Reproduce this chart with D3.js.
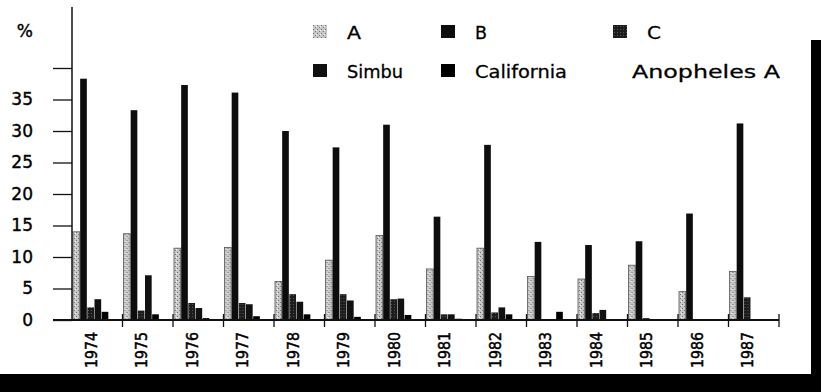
<!DOCTYPE html>
<html>
<head>
<meta charset="utf-8">
<script src="https://cdn.jsdelivr.net/npm/d3@7"></script>
<style>
  body { margin: 0; background: #fff; }
  svg { display: block; font-family: "DejaVu Sans", sans-serif; }
</style>
</head>
<body>
<script>
// values (%)
const years = ['1974', '1975', '1976', '1977', '1978', '1979', '1980',
  '1981', '1982', '1983', '1984', '1985', '1986', '1987'];
const seriesNames = ['A', 'B', 'C', 'Simbu', 'California', 'Anopheles A'];
const valsA = [14.0, 13.7, 11.4, 11.5, 6.1, 9.5, 13.4, 8.1, 11.4, 6.9, 6.5, 8.7, 4.5, 7.7];
const valsB = [38.3, 33.3, 37.3, 36.1, 30.0, 27.4, 31.0, 16.4, 27.8, 12.4, 11.9, 12.5, 16.9, 31.2];
const valsC = [2.0, 1.5, 2.7, 2.7, 4.1, 4.1, 3.3, 0.9, 1.2, 0, 1.1, 0.3, 0, 3.6];
const valsSimbu = [3.3, 7.1, 1.9, 2.5, 2.9, 3.1, 3.4, 0.9, 2.0, 0, 1.6, 0, 0, 0];
const valsCal = [1.3, 0.9, 0.3, 0.6, 0.9, 0.5, 0.8, 0.2, 0.9, 1.3, 0, 0, 0, 0];
const yTicks = [0, 5, 10, 15, 20, 25, 30, 35, 40];

const w = 829, h = 392;
const svg = d3.select(document.body).append('svg')
  .attr('width', w).attr('height', h);

svg.append('rect').attr('width', w).attr('height', h).attr('fill', '#fff');

// stippled grey for series A
let defs = svg.append('defs');
let pat = defs.append('pattern').attr('id', 'stip')
  .attr('width', 4).attr('height', 4).attr('patternUnits', 'userSpaceOnUse');
pat.append('rect').attr('width', 4).attr('height', 4).attr('fill', '#c8c8c8');
pat.append('rect').attr('x', 0).attr('y', 0).attr('width', 1).attr('height', 1).attr('fill', '#6a6a6a');
pat.append('rect').attr('x', 2).attr('y', 2).attr('width', 1).attr('height', 1).attr('fill', '#7a7a7a');
pat.append('rect').attr('x', 3).attr('y', 1).attr('width', 1).attr('height', 1).attr('fill', '#fff');

let pat2 = defs.append('pattern').attr('id', 'dark')
  .attr('width', 3).attr('height', 3).attr('patternUnits', 'userSpaceOnUse');
pat2.append('rect').attr('width', 3).attr('height', 3).attr('fill', '#1c1c1c');
pat2.append('rect').attr('x', 1).attr('y', 1).attr('width', 1).attr('height', 1).attr('fill', '#555');

const series = [
  { name: 'A', values: valsA, fill: 'url(#stip)', stroke: '#555' },
  { name: 'B', values: valsB, fill: '#0d0d0d', stroke: 'none' },
  { name: 'C', values: valsC, fill: 'url(#dark)', stroke: 'none' },
  { name: 'Simbu', values: valsSimbu, fill: '#111', stroke: 'none' },
  { name: 'California', values: valsCal, fill: '#000', stroke: 'none' }
];

let x0 = d3.scaleBand().domain(years).range([72, 779]).padding(0);
let x1 = d3.scaleBand().domain(seriesNames).range([1, 44]);
let y = d3.scaleLinear().domain([0, 40]).range([320, 68]);

// bars
let groups = svg.selectAll('.grp')
  .data(years)
  .enter().append('g')
  .attr('class', 'grp')
  .attr('transform', d => `translate(${x0(d)},0)`);

groups.selectAll('rect')
  .data((d, i) => series.map(s => ({ s: s, v: s.values[i] })))
  .enter().append('rect')
  .attr('x', d => x1(d.s.name))
  .attr('y', d => y(d.v))
  .attr('width', x1.bandwidth() - 0.5)
  .attr('height', d => y(0) - y(d.v))
  .attr('fill', d => d.s.fill)
  .attr('stroke', d => d.s.stroke)
  .attr('stroke-width', 0.8);

// y axis
let yAxis = svg.append('g')
  .attr('transform', 'translate(72,0)')
  .call(d3.axisLeft(y).tickValues(yTicks).tickSize(19).tickPadding(20)
    .tickFormat(d => d === 40 ? '' : d));
yAxis.select('.domain').remove();
yAxis.selectAll('line').attr('stroke', '#111').attr('stroke-width', 1.3);
yAxis.selectAll('text').attr('font-size', 17).attr('fill', '#000')
  .attr('stroke', '#000').attr('stroke-width', 0.4)
  .attr('font-family', '"DejaVu Sans", sans-serif');

svg.append('line').attr('x1', 72).attr('x2', 72).attr('y1', 7).attr('y2', y(0))
  .attr('stroke', '#111').attr('stroke-width', 1.5);
svg.append('line').attr('x1', 53).attr('x2', 779).attr('y1', y(0)).attr('y2', y(0))
  .attr('stroke', '#111').attr('stroke-width', 2);

svg.append('text').attr('x', 33).attr('y', 37).attr('text-anchor', 'end')
  .attr('font-size', 17).attr('stroke', '#000').attr('stroke-width', 0.4).text('%');

// group separators
svg.selectAll('.sep')
  .data(years)
  .enter().append('line')
  .attr('class', 'sep')
  .attr('x1', d => x0(d) + x0.bandwidth())
  .attr('x2', d => x0(d) + x0.bandwidth())
  .attr('y1', y(0) - 6).attr('y2', y(0) + 7)
  .attr('stroke', '#111').attr('stroke-width', 1.3);

// year labels
svg.selectAll('.yr')
  .data(years)
  .enter().append('text')
  .attr('class', 'yr')
  .attr('transform', d => `translate(${x0(d) + x0.bandwidth() / 2 - 0.5},332) rotate(-90)`)
  .attr('text-anchor', 'end')
  .attr('font-size', 15)
  .attr('stroke', '#000').attr('stroke-width', 0.5)
  .attr('textLength', 36)
  .attr('lengthAdjust', 'spacingAndGlyphs')
  .text(d => d);

// legend
const legend = [
  { name: 'A', fill: 'url(#stip)', x: 313, y: 25, len: 14 },
  { name: 'B', fill: '#0d0d0d', x: 441, y: 25, len: 12 },
  { name: 'C', fill: 'url(#dark)', x: 613, y: 25, len: 14 },
  { name: 'Simbu', fill: '#111', x: 313, y: 64, len: 56 },
  { name: 'California', fill: '#000', x: 441, y: 64, len: 92 },
  { name: 'Anopheles A', fill: null, x: 613, y: 64, len: 148 }
];
let lg = svg.selectAll('.lg')
  .data(legend)
  .enter().append('g')
  .attr('class', 'lg')
  .attr('transform', d => `translate(${d.x},${d.y})`);
lg.filter(d => d.fill).append('rect')
  .attr('width', 14).attr('height', 13)
  .attr('fill', d => d.fill);
lg.append('text')
  .attr('x', d => d.name === 'Anopheles A' ? 19 : 34).attr('y', 14)
  .attr('font-size', 18)
  .attr('stroke', '#000').attr('stroke-width', 0.3)
  .attr('textLength', d => d.len)
  .attr('lengthAdjust', 'spacingAndGlyphs')
  .text(d => d.name);

// scan edges
svg.append('rect').attr('x', 811).attr('y', 40).attr('width', 10).attr('height', h - 40).attr('fill', '#000');
svg.append('rect').attr('x', 0).attr('y', 374).attr('width', 821).attr('height', h - 374).attr('fill', '#000');
</script>
</body>
</html>
